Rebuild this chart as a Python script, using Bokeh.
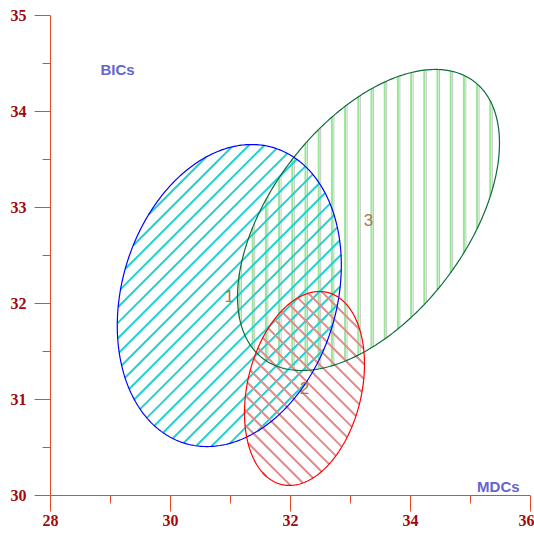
import numpy as np
from bokeh.plotting import figure
from bokeh.models import Range1d, FixedTicker
from bokeh.core.properties import value
from bokeh.embed import file_html
from bokeh.resources import INLINE

# ---- data ----
groups = ["1", "2", "3"]
center_x = [30.98, 32.233, 33.30]
center_y = [32.083, 31.115, 32.87]
half_x = [1.867, 1.00, 2.183]
half_y = [1.573, 1.01, 1.568]
corr = [0.20, 0.25, 0.51]

x_major = [28, 30, 32, 34, 36]
x_minor = [29, 31, 33, 35]
y_major = [30, 31, 32, 33, 34, 35]
y_minor = [30.5, 31.5, 32.5, 33.5, 34.5]
x_title = "MDCs"
y_title = "BICs"

# ---- styles ----
outline_colors = ["#0000ff", "#ff0000", "#0d6b3c"]
hatch_colors = ["#22d0d0", "#e08c8c", "#96e696"]
hatch_normals = [(-1.0, 1.0), (1.0, 1.0), (1.0, 0.0)]
hatch_steps = [15.5, 15.0, 13.2]
hatch_phases = [3.3, 10.0, 7.8]
label_color = "#a67a4c"
axis_color = "#e34a26"
tick_label_color = "#a00a0a"
title_color = "#6565cc"

W, H = 534, 536
ML, MR, MT, MB = 50, 4, 15, 41
PXX = (W - ML - MR) / 8.0
PXY = (H - MT - MB) / 5.0

p = figure(width=W, height=H, x_range=Range1d(28, 36), y_range=Range1d(30, 35),
           output_backend="svg", toolbar_location=None,
           min_border_left=ML, min_border_right=MR, min_border_top=MT, min_border_bottom=MB)
p.outline_line_color = None
p.grid.visible = False
p.background_fill_color = "white"


def ellipse_xy(cx, cy, sx, sy, rho, n=400):
    t = np.linspace(0, 2 * np.pi, n)
    r = np.sqrt(1 - rho ** 2)
    return cx + sx * np.cos(t), cy + sy * (rho * np.cos(t) + r * np.sin(t))


def hatch_segments(cx, cy, sx, sy, rho, normal, step, phase):
    nx, ny = normal
    r = np.sqrt(1 - rho ** 2)
    SX, SY = sx * PXX, sy * PXY
    Xc, Yc = cx * PXX, cy * PXY
    A = nx * SX + ny * SY * rho
    B = ny * SY * r
    R2 = A * A + B * B
    R = np.sqrt(R2)
    c0 = nx * Xc + ny * Yc
    k0 = int(np.ceil((c0 - R - phase) / step))
    k1 = int(np.floor((c0 + R - phase) / step))
    xs, ys = [], []
    for k in range(k0, k1 + 1):
        d = phase + k * step - c0
        if abs(d) >= R:
            continue
        h = np.sqrt(R2 - d * d)
        u1, v1 = (A * d - B * h) / R2, (B * d + A * h) / R2
        u2, v2 = (A * d + B * h) / R2, (B * d - A * h) / R2
        xs.append([cx + sx * u1, cx + sx * u2])
        ys.append([cy + sy * (rho * u1 + r * v1), cy + sy * (rho * u2 + r * v2)])
    return xs, ys


order = [2, 0, 1]
for i in order:
    args = (center_x[i], center_y[i], half_x[i], half_y[i], corr[i])
    if i == 2:
        gx, gy = hatch_segments(*args, hatch_normals[i], hatch_steps[i], hatch_phases[i] + 2.0)
        p.multi_line(gx, gy, line_color="#c4c4c4", line_width=1)
    hx, hy = hatch_segments(*args, hatch_normals[i], hatch_steps[i], hatch_phases[i])
    p.multi_line(hx, hy, line_color=hatch_colors[i], line_width=2)

for i in order:
    ex, ey = ellipse_xy(center_x[i], center_y[i], half_x[i], half_y[i], corr[i])
    p.line(ex, ey, line_color=outline_colors[i], line_width=1.2)

p.text(x=center_x, y=center_y, text=groups, text_color=label_color,
       text_font=value("Liberation Sans"), text_font_size="17px",
       text_align="center", text_baseline="middle")

p.text(x=[28.833], y=[34.4375], text=[y_title], text_color=title_color,
       text_font=value("Liberation Sans"), text_font_size="15px", text_font_style="bold",
       text_align="left", text_baseline="middle")
p.text(x=[35.11], y=[30.097], text=[x_title], text_color=title_color,
       text_font=value("Liberation Sans"), text_font_size="15px", text_font_style="bold",
       text_align="left", text_baseline="middle")

p.xaxis.ticker = FixedTicker(ticks=x_major, minor_ticks=x_minor)
p.yaxis.ticker = FixedTicker(ticks=y_major, minor_ticks=y_minor)
for ax in (p.xaxis[0], p.yaxis[0]):
    ax.axis_line_color = axis_color
    ax.major_tick_line_color = axis_color
    ax.minor_tick_line_color = axis_color
    ax.major_tick_in = 0
    ax.major_tick_out = 16
    ax.minor_tick_in = 0
    ax.minor_tick_out = 8
    ax.major_label_text_color = tick_label_color
    ax.major_label_text_font = "Liberation Serif"
    ax.major_label_text_font_style = "bold"
    ax.major_label_text_font_size = "16px"
p.xaxis.major_label_standoff = 3
p.yaxis.major_label_standoff = 8

open("out.html", "w").write(file_html(p, INLINE))
